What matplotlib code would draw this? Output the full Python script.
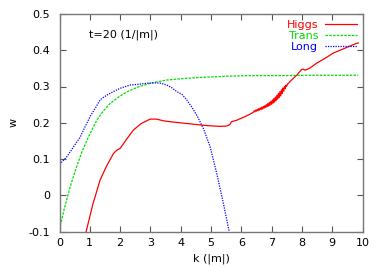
import matplotlib
matplotlib.use("Agg")
import matplotlib.pyplot as plt

higgs_k = [0.88, 1.1, 1.34, 1.55, 1.78, 1.9, 2.0, 2.2, 2.44, 2.7, 2.99, 3.2, 3.4, 3.54, 3.75, 3.98, 4.3, 4.64, 4.9, 5.08, 5.3, 5.52, 5.62, 5.68, 5.85, 6.07, 6.25,
           6.400, 6.425, 6.450, 6.475, 6.500, 6.525, 6.550, 6.575, 6.600, 6.625, 6.650, 6.675, 6.700, 6.725, 6.750, 6.775,
           6.800, 6.825, 6.850, 6.875, 6.900, 6.925, 6.950, 6.975, 7.000, 7.025, 7.050, 7.075, 7.100, 7.125, 7.150, 7.175,
           7.200, 7.225, 7.250, 7.275, 7.300, 7.325, 7.350, 7.375, 7.400, 7.425, 7.450, 7.475, 7.500, 7.525, 7.550,
           7.6, 7.71, 7.85, 7.99, 8.05, 8.1, 8.25, 8.48, 8.75, 9.03, 9.4, 9.8, 9.86]
higgs_w = [-0.1, -0.025, 0.042, 0.08, 0.115, 0.125, 0.129, 0.153, 0.18, 0.198, 0.21, 0.21, 0.206, 0.204, 0.202, 0.2, 0.197, 0.194, 0.192, 0.191, 0.19, 0.191, 0.195, 0.203, 0.207, 0.215, 0.222,
           0.229, 0.233, 0.230, 0.235, 0.232, 0.237, 0.233, 0.239, 0.235, 0.241, 0.236, 0.243, 0.238, 0.245, 0.240, 0.247,
           0.242, 0.250, 0.244, 0.253, 0.246, 0.256, 0.248, 0.259, 0.251, 0.263, 0.254, 0.267, 0.257, 0.271, 0.261, 0.276,
           0.265, 0.281, 0.269, 0.286, 0.274, 0.291, 0.280, 0.296, 0.287, 0.300, 0.294, 0.304, 0.301, 0.307, 0.308,
           0.313, 0.322, 0.333, 0.347, 0.348, 0.345, 0.35, 0.364, 0.377, 0.392, 0.405, 0.419, 0.42]

trans_k = [0.0, 0.15, 0.35, 0.55, 0.74, 0.95, 1.23, 1.45, 1.67, 1.95, 2.22, 2.6, 2.99, 3.54, 4.1, 4.64, 5.2, 5.74, 6.3, 6.84, 7.5, 8.2, 9.0, 9.86]
trans_w = [-0.094, -0.04, 0.023, 0.075, 0.12, 0.16, 0.207, 0.233, 0.253, 0.271, 0.285, 0.299, 0.309, 0.318, 0.322, 0.325, 0.327, 0.329, 0.33, 0.33, 0.33, 0.331, 0.331, 0.331]

long_k = [0.0, 0.24, 0.45, 0.68, 0.85, 1.01, 1.2, 1.34, 1.45, 1.6, 1.78, 2.0, 2.33, 2.6, 2.88, 3.2, 3.35, 3.54, 3.7, 3.87, 4.05, 4.2, 4.35, 4.53, 4.75, 4.97, 5.19, 5.41, 5.6]
long_w = [0.085, 0.106, 0.132, 0.16, 0.19, 0.217, 0.243, 0.263, 0.27, 0.278, 0.286, 0.295, 0.304, 0.306, 0.309, 0.31, 0.309, 0.304, 0.297, 0.286, 0.278, 0.263, 0.245, 0.221, 0.184, 0.134, 0.06, -0.023, -0.1]

fig = plt.figure(figsize=(3.82, 2.67), dpi=100)
ax = fig.add_axes([59.5/382, 1 - 231.5/267, 303/382, 217.5/267])

ax.plot(higgs_k, higgs_w, color="#ff0000", lw=0.9, label="Higgs")
ax.plot(trans_k, trans_w, color="#00dd00", lw=0.9, ls=(0, (2, 1)), label="Trans")
ax.plot(long_k, long_w, color="#0000ff", lw=0.9, ls=(0, (1, 1)), label="Long")

ax.set_xlim(0, 10)
ax.set_ylim(-0.1, 0.5)
ax.set_xticks(range(0, 11))
ax.set_yticks([-0.1, 0, 0.1, 0.2, 0.3, 0.4, 0.5])
ax.set_yticklabels(["-0.1", "0", "0.1", "0.2", "0.3", "0.4", "0.5"])
ax.tick_params(direction="in", top=True, right=True, labelsize=8, length=4, color="#555555")
ax.tick_params(axis="x", pad=5)
ax.tick_params(axis="y", pad=7)
for s in ax.spines.values():
    s.set_color("#777777")
    s.set_linewidth(1.0)

ax.set_xlabel("k (|m|)", fontsize=8, labelpad=4)
ax.set_ylabel("w", fontsize=8, labelpad=7)
ax.text(0.96, 0.442, "t=20 (1/|m|)", fontsize=8, va="center", ha="left")

leg = ax.legend(loc="upper right", frameon=False, markerfirst=False, labelcolor="linecolor",
                fontsize=8, handlelength=2.9, labelspacing=0.1, handletextpad=0.6,
                borderaxespad=0.3, borderpad=0.2)

fig.savefig("out.png", dpi=100)
